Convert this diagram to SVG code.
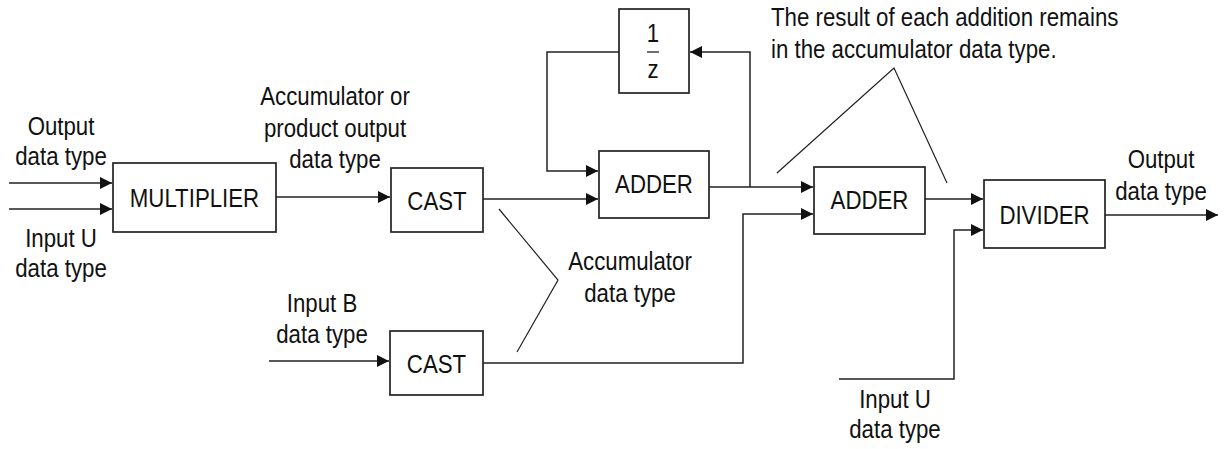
<svg xmlns="http://www.w3.org/2000/svg" width="1227" height="449" viewBox="0 0 1227 449">
<style>
  text { font-family: "Liberation Sans", Arial, sans-serif; font-size: 25px; fill: #111; text-anchor: middle; transform-box: fill-box; transform-origin: center; transform: scaleX(0.89); }
  text.left { text-anchor: start; transform-origin: left; }
  .box { fill: #fff; stroke: #222; stroke-width: 1.7; }
  .wire { fill: none; stroke: #222; stroke-width: 1.5; }
  .arr { marker-end: url(#ah); }
  .note { fill: none; stroke: #222; stroke-width: 1.2; }
</style>
<defs>
  <marker id="ah" markerUnits="userSpaceOnUse" markerWidth="13" markerHeight="13" refX="12" refY="6" orient="auto">
    <path d="M0,0 L12,6 L0,12 z" fill="#111"/>
  </marker>
</defs>
<rect width="1227" height="449" fill="#fff"/>

<g id="connectors">
  <path class="wire arr" d="M9,183 H112"/>
  <path class="wire arr" d="M9,209 H112"/>
  <path class="wire arr" d="M276,197 H390"/>
  <path class="wire arr" d="M483,199 H598"/>
  <path class="wire arr" d="M709,187 H813"/>
  <path class="wire arr" d="M750,187 V52 H690"/>
  <path class="wire arr" d="M619,52 H547 V171 H598"/>
  <path class="wire arr" d="M269,361 H389"/>
  <path class="wire arr" d="M483,363 H743 V214 H813"/>
  <path class="wire arr" d="M925,199 H983"/>
  <path class="wire arr" d="M839,379 H954 V230 H983"/>
  <path class="wire arr" d="M1105,215 H1218"/>
  <path class="note" d="M499,209 L558,280 L517,352"/>
  <path class="note" d="M777,173 L894,68 L947,183"/>
</g>

<g id="multiplier">
  <rect class="box" x="113" y="163" width="163" height="69"/>
  <text x="194.5" y="207">MULTIPLIER</text>
</g>
<g id="cast1">
  <rect class="box" x="391" y="168" width="92" height="64"/>
  <text x="437" y="210">CAST</text>
</g>
<g id="cast2">
  <rect class="box" x="390" y="331" width="93" height="64"/>
  <text x="436.5" y="373">CAST</text>
</g>
<g id="adder1">
  <rect class="box" x="599" y="151" width="110" height="67"/>
  <text x="654" y="193">ADDER</text>
</g>
<g id="delay">
  <rect class="box" x="619" y="9" width="70" height="84"/>
  <text x="653" y="42">1</text>
  <line x1="647" y1="52" x2="659" y2="52" stroke="#222" stroke-width="1.3"/>
  <text x="653" y="78">z</text>
</g>
<g id="adder2">
  <rect class="box" x="814" y="167" width="111" height="67"/>
  <text x="869.5" y="209">ADDER</text>
</g>
<g id="divider">
  <rect class="box" x="984" y="180" width="121" height="68"/>
  <text x="1044.5" y="224">DIVIDER</text>
</g>

<g id="labels">
  <text x="61" y="135">Output</text>
  <text x="61" y="165">data type</text>
  <text x="61" y="247">Input U</text>
  <text x="61" y="277">data type</text>
  <text x="335" y="105">Accumulator or</text>
  <text x="335" y="137">product output</text>
  <text x="335" y="168">data type</text>
  <text x="322" y="312">Input B</text>
  <text x="322" y="343">data type</text>
  <text x="630" y="270">Accumulator</text>
  <text x="630" y="302">data type</text>
  <text class="left" x="771" y="26">The result of each addition remains</text>
  <text class="left" x="771" y="58">in the accumulator data type.</text>
  <text x="1161" y="168">Output</text>
  <text x="1161" y="200">data type</text>
  <text x="895" y="408">Input U</text>
  <text x="895" y="438">data type</text>
</g>
</svg>
